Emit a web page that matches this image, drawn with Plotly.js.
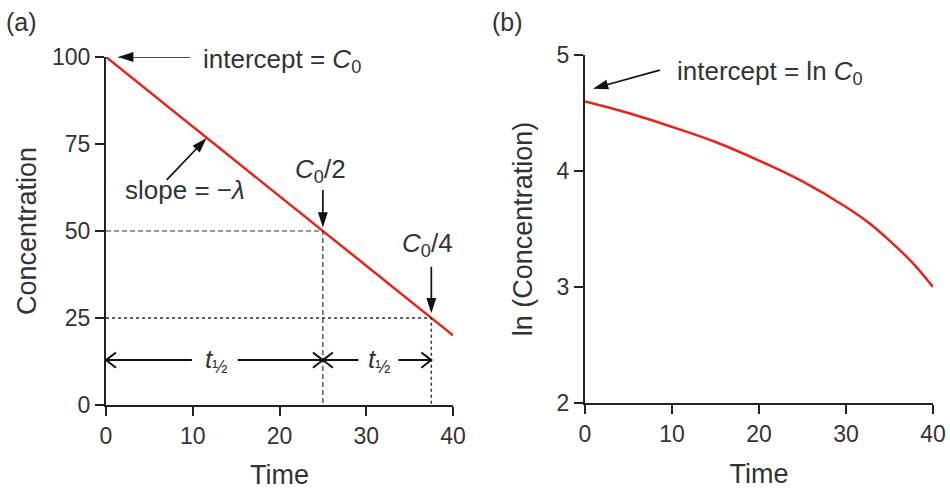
<!DOCTYPE html>
<html>
<head>
<meta charset="utf-8">
<script src="https://cdn.plot.ly/plotly-3.0.1.min.js"></script>
<style>html,body{margin:0;padding:0;background:#fff;}#chart{width:950px;height:490px;}</style>
</head>
<body>
<div id="chart"></div>
<script>
// Panel (a): concentration vs time (linear decline)
const timeA = [0, 40];
const concA = [100, 20];
// half-life markers
const halfTimes = [25, 37.5];
const halfConcs = [50, 25];
// Panel (b): ln(concentration) vs time
const timeB = [0, 5, 10, 15, 20, 25, 30, 32.5, 35, 37.5, 40];
const lnConcB = [4.60, 4.50, 4.38, 4.25, 4.09, 3.91, 3.69, 3.56, 3.40, 3.22, 3.00];
// tick labels
const xTicks = [0, 10, 20, 30, 40];
const yTicksA = [0, 25, 50, 75, 100];
const yTicksB = [2, 3, 4, 5];

const FONT = 'Liberation Sans, Arial, sans-serif';
const TXT = '#333333';
const AX = '#222222';
const ARW = '#111111';
const RED = '#e8231c';

const traces = [
  {x: timeA, y: concA, xaxis: 'x', yaxis: 'y', mode: 'lines', line: {color: RED, width: 2.5}, hoverinfo: 'skip'},
  {x: [0, halfTimes[0], halfTimes[0]], y: [halfConcs[0], halfConcs[0], 0], xaxis: 'x', yaxis: 'y', mode: 'lines',
   line: {color: TXT, width: 1.2, dash: '5px,3px'}, hoverinfo: 'skip'},
  {x: [0, halfTimes[1], halfTimes[1]], y: [halfConcs[1], halfConcs[1], 0], xaxis: 'x', yaxis: 'y', mode: 'lines',
   line: {color: TXT, width: 1.5, dash: 'dot'}, hoverinfo: 'skip'},
  {x: timeB, y: lnConcB, xaxis: 'x2', yaxis: 'y2', mode: 'lines', line: {color: RED, width: 2.5, shape: 'spline'}, hoverinfo: 'skip'}
];

// filled arrow: line from tail to tip with an arrow marker at the tip
function filledArrow(tail, tip, xa, ya) {
  traces.push({
    x: [tail[0], tip[0]], y: [tail[1], tip[1]], xaxis: xa, yaxis: ya,
    mode: 'lines+markers', hoverinfo: 'skip', cliponaxis: false,
    line: {color: ARW, width: 1.7},
    marker: {symbol: 'arrow', angleref: 'previous', size: 16, color: ARW, line: {width: 0}}
  });
}
// open chevron arrow (used for the half-life spans)
function chevronArrow(tail, tip, xa, ya, dx, dy) {
  const dir = Math.sign(tail[0] - tip[0]);
  traces.push({
    x: [tail[0], tip[0], null, tip[0] + dir * dx, tip[0], tip[0] + dir * dx],
    y: [tail[1], tip[1], null, tip[1] + dy, tip[1], tip[1] - dy],
    xaxis: xa, yaxis: ya, mode: 'lines', hoverinfo: 'skip', cliponaxis: false,
    line: {color: ARW, width: 2}
  });
}

const halfY = 12.9;
filledArrow([9.7, concA[0]], [1.4, concA[0]], 'x', 'y');          // intercept = C0
filledArrow([7.0, 64.7], [11.6, 76.7], 'x', 'y');                  // slope
filledArrow([halfTimes[0], 61.8], [halfTimes[0], 51.0], 'x', 'y'); // C0/2
filledArrow([halfTimes[1], 39.7], [halfTimes[1], 26.4], 'x', 'y'); // C0/4
chevronArrow([9.9, halfY], [0, halfY], 'x', 'y', 1.15, 2.2);
chevronArrow([15.2, halfY], [halfTimes[0], halfY], 'x', 'y', 1.15, 2.2);
chevronArrow([29.1, halfY], [halfTimes[0], halfY], 'x', 'y', 1.15, 2.2);
chevronArrow([33.7, halfY], [halfTimes[1], halfY], 'x', 'y', 1.15, 2.2);
filledArrow([8.6, 4.87], [0.92, 4.71], 'x2', 'y2');               // intercept = ln C0

function axisBase(extra) {
  return Object.assign({
    showline: true, linecolor: AX, linewidth: 2,
    ticks: 'outside', ticklen: 9, tickwidth: 2, tickcolor: AX,
    showgrid: false, zeroline: false, automargin: false,
    tickfont: {family: FONT, size: 23, color: TXT}
  }, extra);
}

const annFont = {family: FONT, size: 26, color: TXT};
const titleFont = {family: FONT, size: 27, color: TXT};

const annotations = [
  {xref: 'paper', yref: 'paper', x: -0.1016, y: 1.094, xanchor: 'center', yanchor: 'middle', text: '(a)', showarrow: false, font: {family: FONT, size: 25, color: TXT}},
  {xref: 'paper', yref: 'paper', x: 0.4849, y: 1.094, xanchor: 'center', yanchor: 'middle', text: '(b)', showarrow: false, font: {family: FONT, size: 25, color: TXT}},
  {xref: 'x', yref: 'y', x: 10.95, y: 99.0, xanchor: 'left', yanchor: 'middle', text: 'intercept = <i>C</i><sub>0</sub>', showarrow: false, font: annFont},
  {xref: 'x', yref: 'y', x: 9.1, y: 61.8, xanchor: 'center', yanchor: 'middle', text: 'slope = \u2212<i>\u03bb</i>', showarrow: false, font: annFont},
  {xref: 'x', yref: 'y', x: halfTimes[0] - 0.3, y: 67.5, xanchor: 'center', yanchor: 'middle', text: '<i>C</i><sub>0</sub>/2', showarrow: false, font: annFont},
  {xref: 'x', yref: 'y', x: halfTimes[1] - 0.4, y: 46.0, xanchor: 'center', yanchor: 'middle', text: '<i>C</i><sub>0</sub>/4', showarrow: false, font: annFont},
  {xref: 'x', yref: 'y', x: 12.65, y: halfY, xanchor: 'center', yanchor: 'middle', text: '<i>t</i><sub>\u00bd</sub>', showarrow: false, font: annFont},
  {xref: 'x', yref: 'y', x: 31.45, y: halfY, xanchor: 'center', yanchor: 'middle', text: '<i>t</i><sub>\u00bd</sub>', showarrow: false, font: annFont},
  {xref: 'x2', yref: 'y2', x: 10.3, y: 4.85, xanchor: 'left', yanchor: 'middle', text: 'intercept = ln <i>C</i><sub>0</sub>', showarrow: false, font: annFont}
];

const layout = {
  width: 950, height: 490,
  margin: {l: 106, r: 17, t: 55, b: 85},
  paper_bgcolor: '#ffffff', plot_bgcolor: '#ffffff',
  showlegend: false,
  font: {family: FONT, color: TXT},
  xaxis: axisBase({domain: [0, 0.4196], range: [0, 40], tickvals: xTicks, anchor: 'y',
    title: {text: 'Time', font: titleFont, standoff: 18}}),
  yaxis: axisBase({domain: [0, 0.9943], range: [0, 100], tickvals: yTicksA, anchor: 'x',
    title: {text: 'Concentration', font: titleFont, standoff: 8}}),
  xaxis2: axisBase({domain: [0.5792, 1], range: [0, 40], tickvals: xTicks, anchor: 'y2',
    title: {text: 'Time', font: titleFont, standoff: 18}}),
  yaxis2: axisBase({domain: [0.0057, 1], range: [2, 5], tickvals: yTicksB, anchor: 'x2',
    title: {text: 'ln (Concentration)', font: titleFont, standoff: 16}}),
  annotations: annotations
};

Plotly.newPlot('chart', traces, layout, {displayModeBar: false, staticPlot: true});
</script>
</body>
</html>
